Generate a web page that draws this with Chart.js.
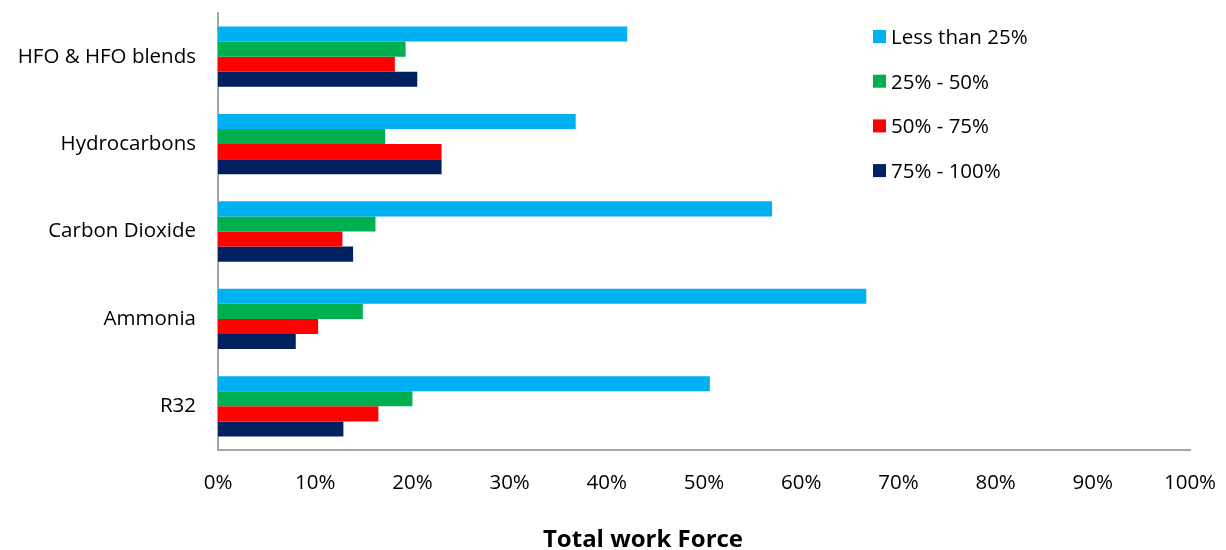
<!DOCTYPE html>
<html><head><meta charset="utf-8">
<script src="https://cdn.jsdelivr.net/npm/chart.js@4.4.1/dist/chart.umd.min.js"></script>
<style>html,body{margin:0;padding:0;background:#fff}#wrap{width:1226px;height:550px;position:relative}</style>
</head><body><div id="wrap"><canvas id="c"></canvas></div>
<script>
const categories = ["HFO & HFO blends", "Hydrocarbons", "Carbon Dioxide", "Ammonia", "R32"];
const seriesNames = ["Less than 25%", "25% - 50%", "50% - 75%", "75% - 100%"];
const lessThan25 = [42.1, 36.8, 57.0, 66.7, 50.6];
const from25to50 = [19.3, 17.2, 16.2, 14.9, 20.0];
const from50to75 = [18.2, 23.0, 12.8, 10.3, 16.5];
const from75to100 = [20.5, 23.0, 13.9, 8.0, 12.9];
const xTicks = [0, 10, 20, 30, 40, 50, 60, 70, 80, 90, 100];
const axisTitle = "Total work Force";
const colors = ["#00B0F0", "#00B050", "#FF0000", "#002060"];
const FONT = "'Open Sans', sans-serif";

const legendPlugin = {
  id: 'sideLegend',
  afterDraw(chart) {
    const ctx = chart.ctx;
    ctx.save();
    ctx.font = "20.5px " + FONT;
    ctx.textBaseline = 'middle';
    ctx.textAlign = 'left';
    chart.data.datasets.forEach((ds, i) => {
      const y = 37 + i * 44.7;
      ctx.fillStyle = ds.backgroundColor;
      ctx.fillRect(873, y - 7, 13, 13);
      ctx.fillStyle = '#000';
      ctx.fillText(ds.label, 891, y + 1);
    });
    // axis title
    ctx.font = "bold 24px " + FONT;
    ctx.textAlign = 'center';
    ctx.fillText(axisTitle, 643, 540);
    ctx.restore();
  }
};

new Chart(document.getElementById('c'), {
  type: 'bar',
  data: {
    labels: categories,
    datasets: [lessThan25, from25to50, from50to75, from75to100].map((d, i) => ({
      label: seriesNames[i], data: d, backgroundColor: colors[i], borderWidth: 0,
      barPercentage: 1.0, categoryPercentage: 0.69
    }))
  },
  options: {
    indexAxis: 'y', responsive: true, maintainAspectRatio: false, animation: false,
    layout: { padding: { top: 13, right: 36, left: 0, bottom: 0 } },
    plugins: { legend: { display: false }, tooltip: { enabled: false } },
    scales: {
      x: {
        min: 0, max: 100,
        afterBuildTicks(s) { s.ticks = xTicks.map(v => ({ value: v })); },
        afterFit(s) { s.height = 100; s.paddingLeft = 0; s.paddingRight = 0; },
        grid: { display: false, drawTicks: false },
        border: { display: true, color: '#A6A6A6', width: 2 },
        ticks: { padding: 21, color: '#000', font: { family: FONT, size: 20.5 }, callback: v => v + '%' }
      },
      y: {
        afterFit(s) { s.width = 218; s.paddingTop = 0; s.paddingBottom = 0; },
        grid: { display: false, drawTicks: false },
        border: { display: true, color: '#A6A6A6', width: 2 },
        ticks: { padding: 22, color: '#000', font: { family: FONT, size: 20.5 } }
      }
    }
  },
  plugins: [legendPlugin]
});
</script></body></html>
